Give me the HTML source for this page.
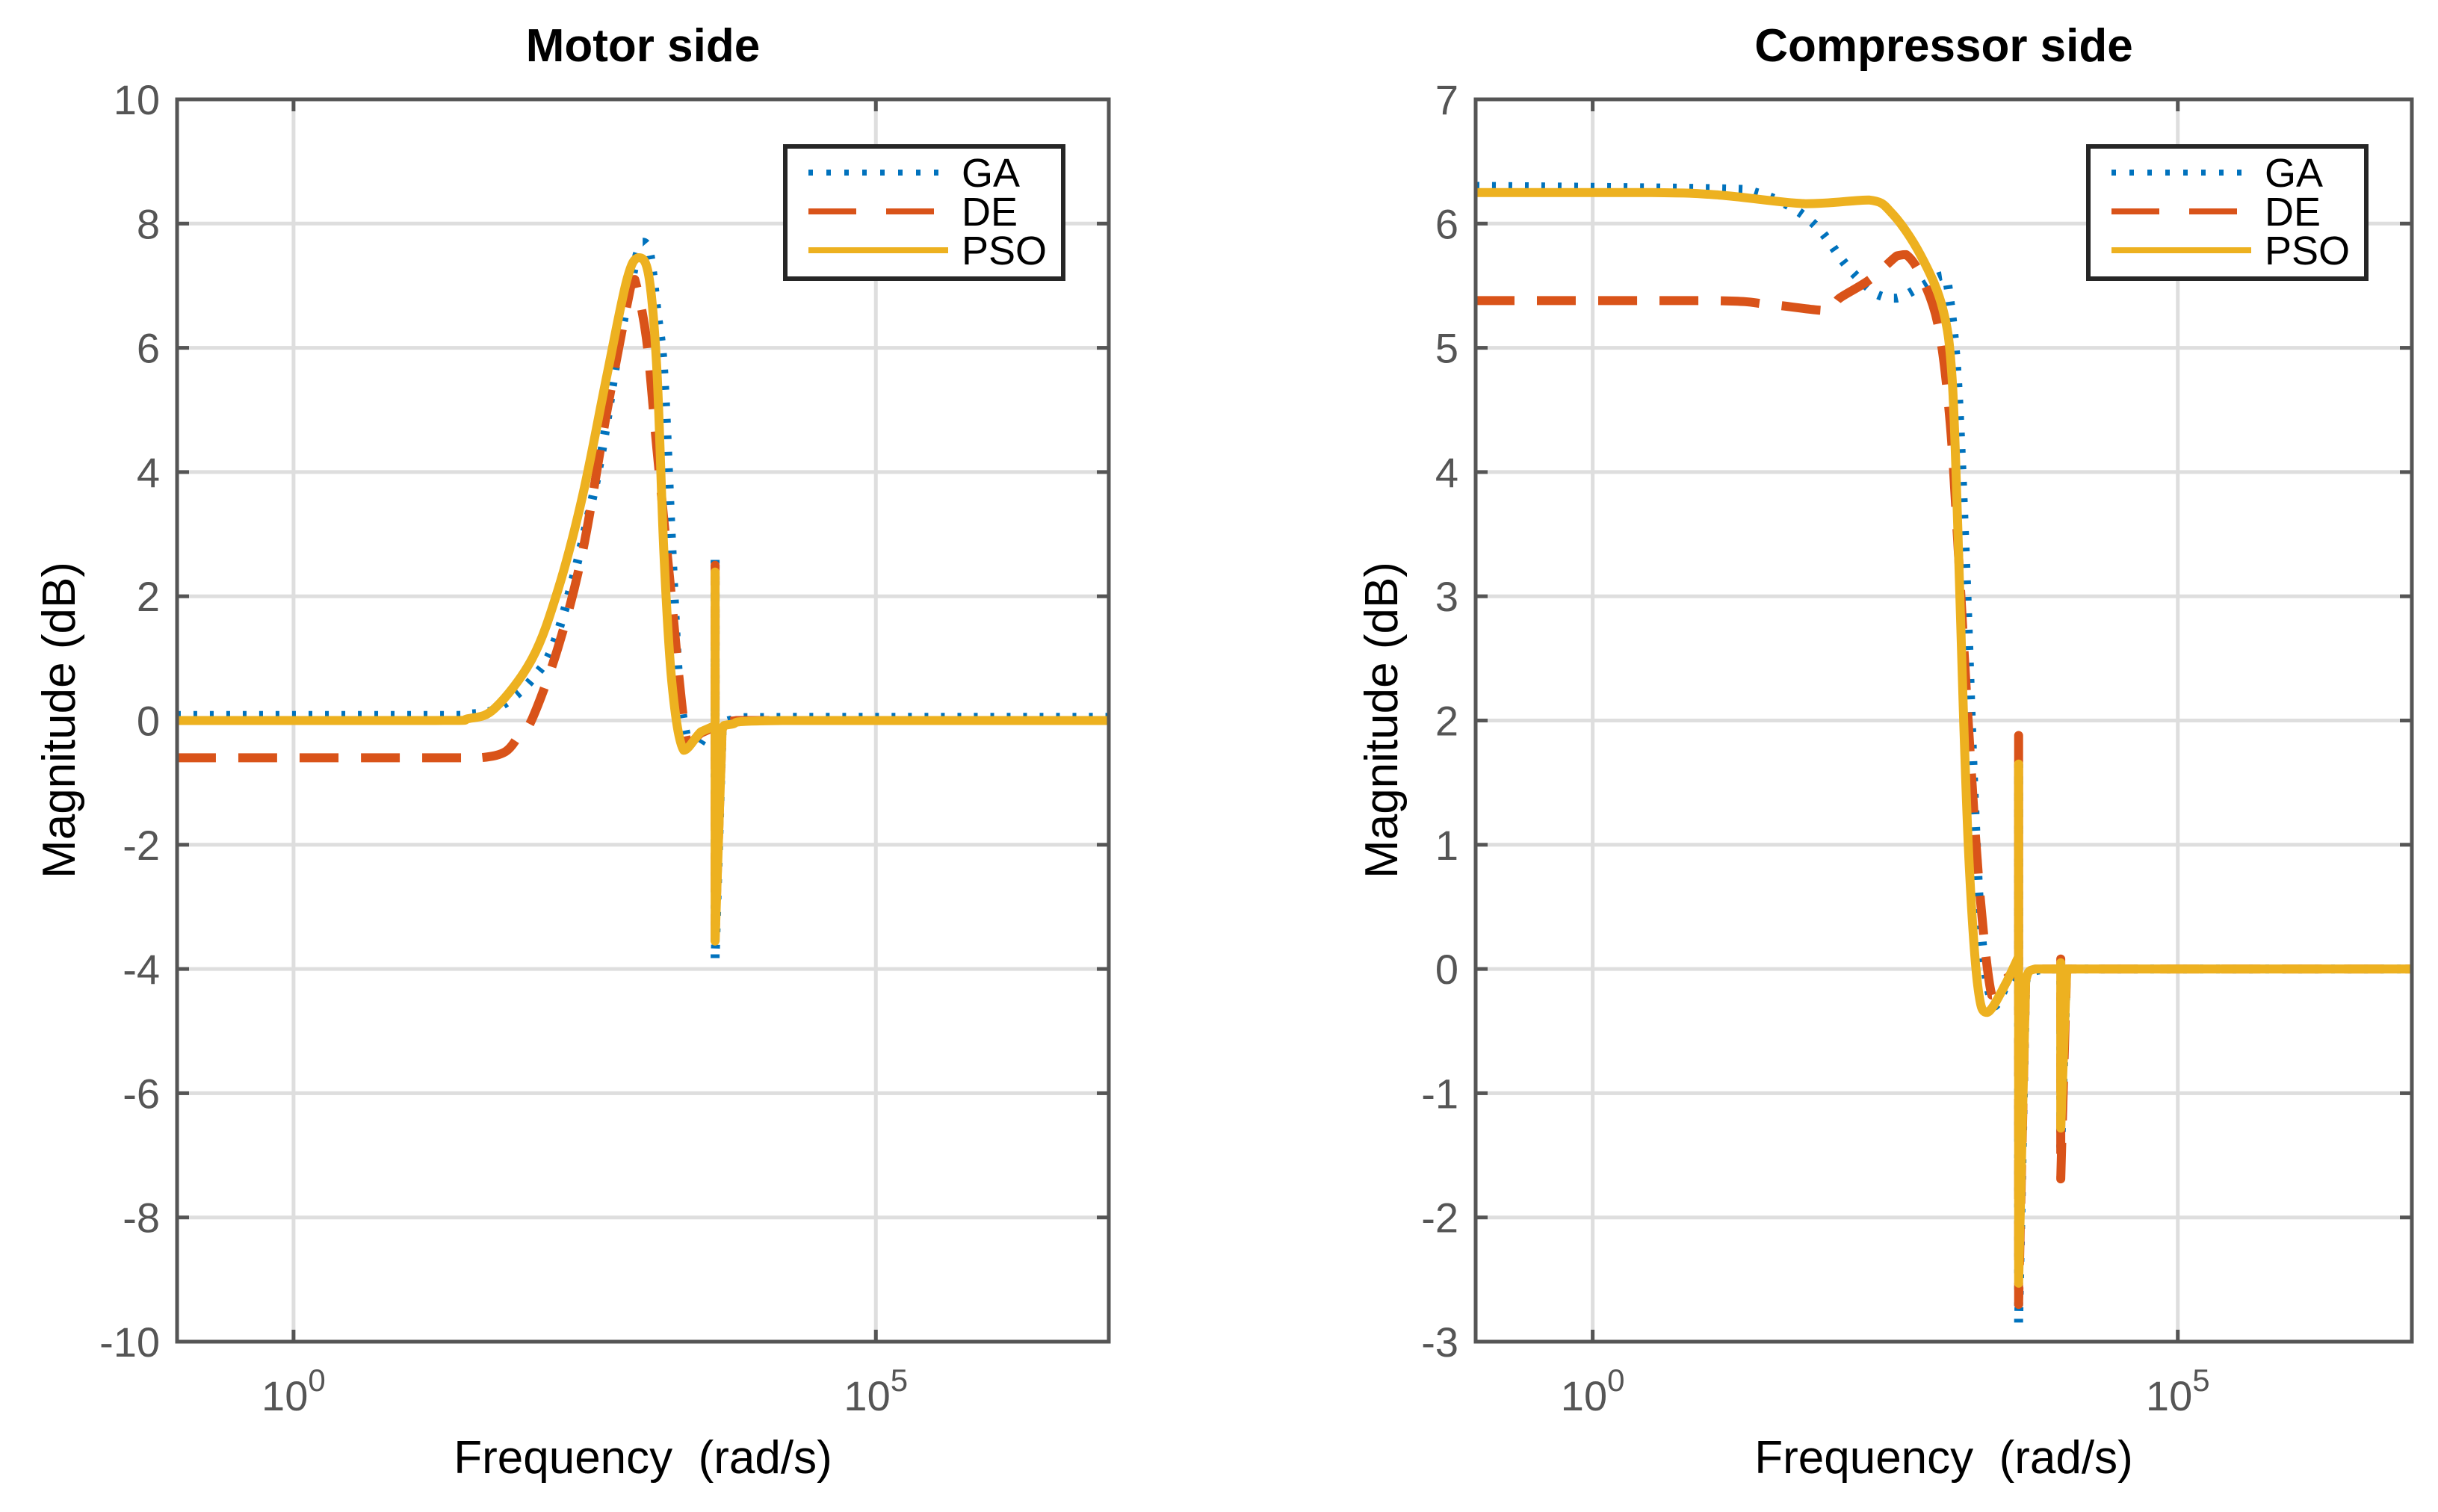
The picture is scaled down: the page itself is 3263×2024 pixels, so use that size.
<!DOCTYPE html>
<html><head><meta charset="utf-8"><style>
html,body{margin:0;padding:0;background:#fff;}
svg{display:block;font-family:"Liberation Sans",sans-serif;}
</style></head><body>
<svg id="chart" width="3263" height="2024" viewBox="0 0 3263 2024" xmlns="http://www.w3.org/2000/svg">
<rect width="3263" height="2024" fill="#fff"/>
</svg>
<script>
// ---- data (log10 of frequency, magnitude dB) ----
const motorGA_x = [-1,1.2,1.5,1.75,2.05,2.27,2.59,2.8,2.95,3.0,3.06,3.12,3.18,3.25,3.31,3.38,3.44,3.55,3.62,3.62,3.62,3.68,3.8,4.2,7];
const motorGA_y = [0.08,0.08,0.1,0.2,0.67,1.42,3.78,6.1,7.5,7.7,7.5,6.6,5.56,2.7,0.6,-0.3,-0.48,-0.2,-0.1,2.65,-3.85,-0.15,0.02,0.05,0.05];
const motorDE_x = [-1,1.3,1.6,1.82,1.95,2.05,2.27,2.48,2.69,2.9,2.93,3.03,3.12,3.23,3.33,3.39,3.5,3.62,3.62,3.62,3.68,3.8,4.2,7];
const motorDE_y = [-0.6,-0.6,-0.6,-0.5,-0.2,0.03,1.17,2.7,4.97,7.03,7.1,6.15,4.37,2.27,0.33,-0.38,-0.2,-0.1,2.5,-3.5,-0.15,0,0,0];
const motorPSO_x = [-1,1.2,1.5,1.73,2.05,2.27,2.48,2.69,2.86,2.96,3.05,3.12,3.18,3.25,3.35,3.5,3.62,3.62,3.62,3.68,3.76,4.2,7];
const motorPSO_y = [0,0,0.03,0.2,1.0,2.1,3.6,5.55,7.08,7.45,7.16,5.64,2.69,0.58,-0.48,-0.18,-0.08,2.39,-3.55,-0.15,-0.06,0,0];

const compGA_x = [-1,1.08,1.4,1.7,1.94,2.18,2.43,2.6,2.8,2.99,3.05,3.12,3.19,3.26,3.33,3.43,3.55,3.64,3.64,3.64,3.7,3.85,4.0,4.0,4.0,4.05,7];
const compGA_y = [6.3,6.28,6.25,6.13,5.95,5.65,5.43,5.4,5.49,5.58,5.4,4.7,3.2,1.4,0.2,-0.3,-0.1,0.0,1.65,-2.85,-0.1,0,0,0.05,-1.43,0,0];
const compDE_x = [-1,1.0,1.5,2.0,2.11,2.37,2.6,2.68,2.8,2.95,3.05,3.12,3.22,3.31,3.41,3.5,3.64,3.64,3.64,3.7,3.85,4.0,4.0,4.0,4.05,7];
const compDE_y = [5.38,5.38,5.35,5.3,5.4,5.55,5.74,5.75,5.59,5.19,4.45,3.43,1.82,0.59,-0.21,-0.1,0.0,1.88,-2.7,-0.1,0,0,0.08,-1.69,0,0];
const compPSO_x = [-1,0.5,1.08,1.82,2.36,2.56,2.8,2.99,3.07,3.12,3.17,3.22,3.29,3.37,3.54,3.64,3.64,3.64,3.7,3.78,4.0,4.0,4.0,4.05,7];
const compPSO_y = [6.25,6.25,6.23,6.16,6.19,6.08,5.75,5.32,4.77,3.55,2.01,0.79,-0.13,-0.35,-0.1,0.1,1.65,-2.53,-0.1,0.0,0,0.05,-1.28,0,0];

const motorYTicks = [-10,-8,-6,-4,-2,0,2,4,6,8,10];
const compYTicks = [-3,-2,-1,0,1,2,3,4,5,6,7];
const xTickExps = [0,5];
const legendLabels = ["GA","DE","PSO"];

const NS="http://www.w3.org/2000/svg";
const svg=document.getElementById('chart');
function mk(tag,attrs,parent){const e=document.createElementNS(NS,tag);for(const k in attrs)e.setAttribute(k,attrs[k]);(parent||svg).appendChild(e);return e;}

const colors=["#0072BD","#D95319","#EDB120"];
const styles=[{w:12,d:"5 17"},{w:12,d:"52 30"},{w:12,d:""}];

function smoothPath(P){
  let d='M'+P[0][0].toFixed(1)+' '+P[0][1].toFixed(1);
  const vert=i=>i>0&&i<P.length&&Math.abs(P[i][0]-P[i-1][0])<0.01;
  const cl=(v,a,b)=>Math.max(Math.min(a,b),Math.min(Math.max(a,b),v));
  for(let i=1;i<P.length;i++){
    const p0=P[Math.max(i-2,0)],p1=P[i-1],p2=P[i],p3=P[Math.min(i+1,P.length-1)];
    if(vert(i)||vert(i-1)||vert(i+1)){d+=' L'+p2[0].toFixed(1)+' '+p2[1].toFixed(1);continue;}
    const c1x=p1[0]+(p2[0]-p0[0])/6,c1y=cl(p1[1]+(p2[1]-p0[1])/6,p1[1],p2[1]);
    const c2x=p2[0]-(p3[0]-p1[0])/6,c2y=cl(p2[1]-(p3[1]-p1[1])/6,p1[1],p2[1]);
    d+=' C'+c1x.toFixed(1)+' '+c1y.toFixed(1)+' '+c2x.toFixed(1)+' '+c2y.toFixed(1)+' '+p2[0].toFixed(1)+' '+p2[1].toFixed(1);
  }
  return d;
}

function panel(cfg){
  const g=mk('g',{});
  
  
  const L=cfg.L,R=cfg.R,T=133,B=1796,ymin=cfg.ymin,ymax=cfg.ymax,xmin=-1,xmax=7;
  const sx=v=>L+(v-xmin)/(xmax-xmin)*(R-L);
  const sy=v=>B-(v-ymin)/(ymax-ymin)*(B-T);
  cfg.yt.forEach(t=>{
    const y=sy(t);
    const gl=mk('line',{x1:L,x2:R,y1:y,y2:y,stroke:'#dedede','stroke-width':5},g);
    
    
    mk('line',{x1:L,x2:L+16,y1:y,y2:y,stroke:'#555','stroke-width':5},g);
    mk('line',{x1:R-16,x2:R,y1:y,y2:y,stroke:'#555','stroke-width':5},g);
    const tl=mk('text',{x:cfg.ylabX,y:y+20,'text-anchor':'end','font-size':56,fill:'#555'},g);
    tl.textContent=String(t);
    
    
  });
  xTickExps.forEach(e=>{
    const x=sx(e);
    const gl=mk('line',{x1:x,x2:x,y1:T,y2:B,stroke:'#dedede','stroke-width':5},g);
    
    
    mk('line',{x1:x,x2:x,y1:B-16,y2:B,stroke:'#555','stroke-width':5},g);
    mk('line',{x1:x,x2:x,y1:T,y2:T+16,stroke:'#555','stroke-width':5},g);
    const tl=mk('text',{x:x,y:1888,'text-anchor':'middle','font-size':56,fill:'#555'},g);
    
    
    tl.appendChild(document.createTextNode('10'));
    const sup=mk('tspan',{dy:-26,'font-size':42},tl);sup.textContent=String(e);
  });
  const cp=mk('clipPath',{id:cfg.name+'-clip'},g);
  mk('rect',{x:L,y:T,width:R-L,height:B-T},cp);
  const sg=mk('g',{'clip-path':'url(#'+cfg.name+'-clip)'},g);
  cfg.series.forEach((s,i)=>{
    const P=s[0].map((v,j)=>[sx(v),sy(s[1][j])]);
    const p=mk('path',{d:smoothPath(P),fill:'none',stroke:colors[i],'stroke-width':styles[i].w,'stroke-dasharray':styles[i].d,'stroke-linejoin':'round'},sg);
    
    
  });
  const box=mk('rect',{x:L,y:T,width:R-L,height:B-T,fill:'none',stroke:'#555','stroke-width':5},g);
  
  
  const lg=mk('g',{},g);
  
  
  const lx=R-433,ly=196;
  mk('rect',{x:lx,y:ly,width:372,height:177,fill:'#fff',stroke:'#262626','stroke-width':6},lg);
  legendLabels.forEach((lab,i)=>{
    const y=ly+35+i*52;
    const e=mk('g',{},lg);
    
    
    mk('line',{x1:lx+31,x2:lx+218,y1:y,y2:y,stroke:colors[i],'stroke-width':8,'stroke-dasharray':i==0?'6 18':(i==1?'64 40':'')},e);
    const t=mk('text',{x:lx+236,y:y+19,'font-size':54,fill:'#000'},e);t.textContent=lab;
  });
  const ti=mk('text',{x:(L+R)/2,y:82,'text-anchor':'middle','font-size':62,'font-weight':'bold',fill:'#000'},g);
  ti.textContent=cfg.title;
  const xl=mk('text',{x:(L+R)/2,y:1972,'text-anchor':'middle','font-size':62,fill:'#000',style:'white-space:pre'},g);
  xl.textContent='Frequency  (rad/s)';
  const yl=mk('text',{x:0,y:0,'text-anchor':'middle','font-size':62,fill:'#000',transform:'translate('+cfg.yTitleX+',964) rotate(-90)'},g);
  yl.textContent='Magnitude (dB)';
}
panel({name:'motor-side-plot',title:'Motor side',L:237,R:1484,ymin:-10,ymax:10,yt:motorYTicks,ylabX:214,yTitleX:100,
  series:[[motorGA_x,motorGA_y],[motorDE_x,motorDE_y],[motorPSO_x,motorPSO_y]]});
panel({name:'compressor-side-plot',title:'Compressor side',L:1975,R:3228,ymin:-3,ymax:7,yt:compYTicks,ylabX:1952,yTitleX:1870,
  series:[[compGA_x,compGA_y],[compDE_x,compDE_y],[compPSO_x,compPSO_y]]});
</script>
</body></html>
